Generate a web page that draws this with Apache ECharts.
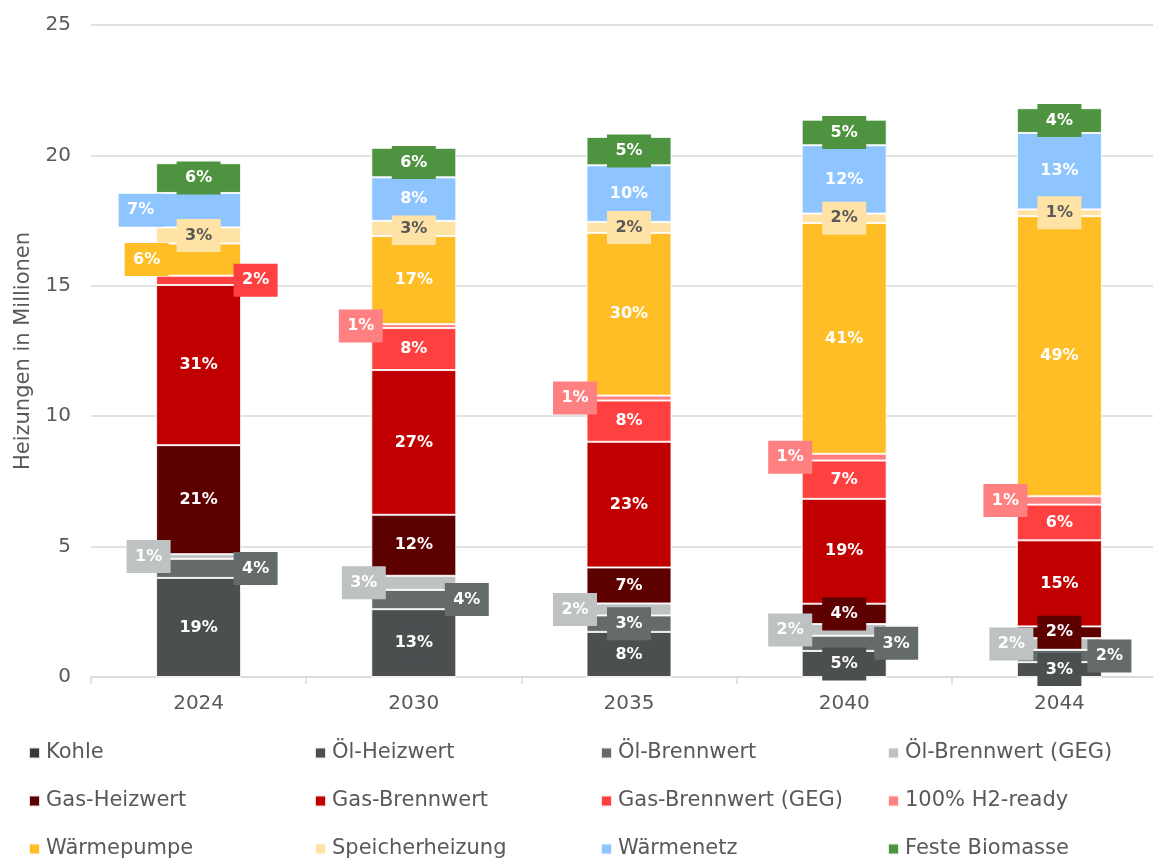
<!DOCTYPE html>
<html>
<head>
<meta charset="utf-8">
<title>Heizungen in Millionen</title>
<script src="https://cdn.jsdelivr.net/npm/echarts@6/dist/echarts.min.js"></script>
<style>
    html, body { margin: 0; padding: 0; background: #fff; }
    #chart { width: 1153px; height: 858px; }
</style>
</head>
<body>
<div id="chart"></div>
<script>
// Jahre (x-Achse)
const years = ['2024', '2030', '2035', '2040', '2044'];

// Heizungen in Millionen, je Technologie (von unten nach oben gestapelt)
const kohle = [0, 0, 0, 0, 0];
const oelHeizwert = [3.80, 2.60, 1.73, 1.00, 0.57];
const oelBrennwert = [0.73, 0.74, 0.63, 0.58, 0.47];
const oelBrennwertGeg = [0.18, 0.54, 0.46, 0.45, 0.45];
const gasHeizwert = [4.18, 2.34, 1.38, 0.78, 0.45];
const gasBrennwert = [6.14, 5.55, 4.82, 4.02, 3.30];
const gasBrennwertGeg = [0.36, 1.61, 1.58, 1.47, 1.37];
const h2Ready = [0, 0.15, 0.19, 0.26, 0.32];
const waermepumpe = [1.23, 3.38, 6.24, 8.85, 10.74];
const speicherheizung = [0.62, 0.58, 0.42, 0.36, 0.26];
const waermenetz = [1.32, 1.67, 2.17, 2.62, 2.93];
const biomasse = [1.14, 1.13, 1.09, 0.98, 0.95];

// y-Achse
const yTicks = [0, 5, 10, 15, 20, 25];

const textColor = '#595959';
const font = 'DejaVu Sans';

const seriesDefs = [
    { name: 'Kohle', data: kohle, color: '#363939' },
    { name: 'Öl-Heizwert', data: oelHeizwert, color: '#4B4F50' },
    { name: 'Öl-Brennwert', data: oelBrennwert, color: '#656B6B', shift: [57, 53, 0, 52, 50] },
    { name: 'Öl-Brennwert (GEG)', data: oelBrennwertGeg, color: '#BFC2C3', shift: [-50, -50, -54, -54, -48] },
    { name: 'Gas-Heizwert', data: gasHeizwert, color: '#5C0000' },
    { name: 'Gas-Brennwert', data: gasBrennwert, color: '#C00000' },
    { name: 'Gas-Brennwert (GEG)', data: gasBrennwertGeg, color: '#FF4040', shift: [57, 0, 0, 0, 0] },
    { name: '100% H2-ready', data: h2Ready, color: '#FF8080', shift: [0, -53, -54, -54, -54] },
    { name: 'Wärmepumpe', data: waermepumpe, color: '#FFBE26', shift: [-52, 0, 0, 0, 0] },
    { name: 'Speicherheizung', data: speicherheizung, color: '#FFE2A6', labelColor: '#595959' },
    { name: 'Wärmenetz', data: waermenetz, color: '#8EC5FF', shift: [-58, 0, 0, 0, 0] },
    { name: 'Feste Biomasse', data: biomasse, color: '#4E933F' }
];

// Summe je Jahr für Prozentangabe
const totals = years.map((_y, i) => seriesDefs.reduce((s, d) => s + d.data[i], 0));

const chart = echarts.init(document.getElementById('chart'));

const series = seriesDefs.map(def => ({
    name: def.name,
    type: 'bar',
    stack: 'total',
    barWidth: 85,
    itemStyle: {
        color: def.color,
        borderColor: 'rgba(255,255,255,0.85)',
        borderWidth: 1
    },
    label: {
        show: true,
        position: 'inside',
        formatter: p => Math.round(p.value / totals[p.dataIndex] * 100) + '%',
        color: def.labelColor || '#fff',
        fontFamily: font,
        fontWeight: 'bold',
        fontSize: 16,
        backgroundColor: def.color,
        width: 44,
        height: 33,
        lineHeight: 33,
        padding: 0,
        align: 'center',
        verticalAlign: 'middle'
    },
    data: def.data.map((v, i) => ({
        value: v,
        label: {
            show: v > 0,
            offset: [def.shift ? def.shift[i] : 0, 0]
        }
    }))
}));

// Legende: 3 Zeilen x 4 Spalten
const legendCols = [28, 314, 600, 887];
const legendRows = [741, 789, 837];
const legends = seriesDefs.map((def, i) => ({
    left: legendCols[i % 4],
    top: legendRows[Math.floor(i / 4)],
    icon: 'rect',
    itemWidth: 11,
    itemHeight: 11,
    itemGap: 0,
    padding: 0,
    selectedMode: false,
    textStyle: {
        color: textColor,
        fontFamily: font,
        fontSize: 21,
        lineHeight: 24,
        padding: [0, 0, 0, 1]
    },
    data: [def.name]
}));

const option = {
    backgroundColor: '#fff',
    animation: false,
    legend: legends,
    grid: {
        left: 91,
        width: 1076,
        top: 25,
        bottom: 181,
        outerBoundsMode: 'none'
    },
    xAxis: {
        type: 'category',
        data: years,
        axisLine: { lineStyle: { color: '#D9D9D9', width: 1.5 } },
        axisTick: { show: true, length: 7, lineStyle: { color: '#D9D9D9', width: 1.5 } },
        axisLabel: { color: textColor, fontFamily: font, fontSize: 20, margin: 17 }
    },
    yAxis: {
        type: 'value',
        min: yTicks[0],
        max: yTicks[yTicks.length - 1],
        interval: 5,
        name: 'Heizungen in Millionen',
        nameLocation: 'middle',
        nameGap: 57,
        nameTextStyle: { color: textColor, fontFamily: font, fontSize: 21 },
        axisLine: { show: false },
        axisTick: { show: false },
        axisLabel: { color: textColor, fontFamily: font, fontSize: 20, margin: 20 },
        splitLine: { lineStyle: { color: '#D9D9D9', width: 1.5 } }
    },
    series: series
};

chart.setOption(option);
</script>
</body>
</html>
